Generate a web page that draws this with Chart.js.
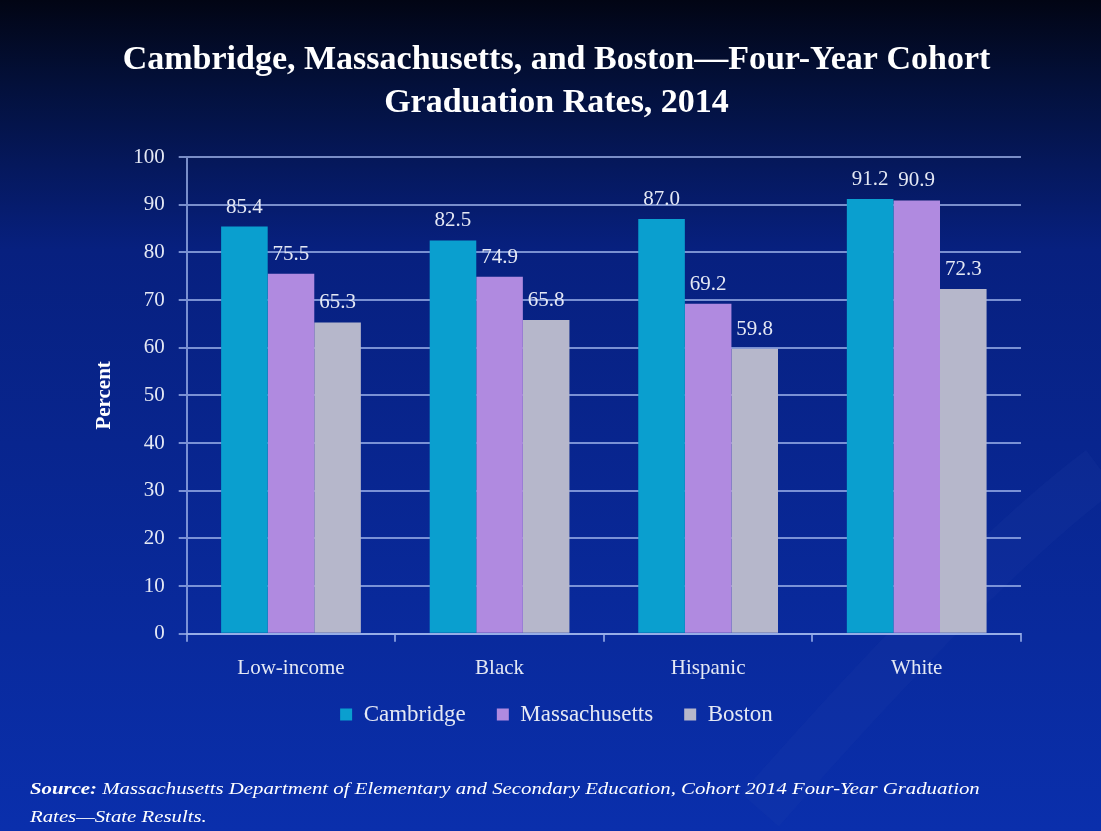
<!DOCTYPE html>
<html>
<head>
<meta charset="utf-8">
<script src="https://cdn.jsdelivr.net/npm/chart.js@4/dist/chart.umd.min.js"></script>
<style>
  html, body { margin: 0; padding: 0; background: #06155a; }
  #wrap { width: 1101px; height: 831px; position: relative; }
</style>
</head>
<body>
<div id="wrap"><canvas id="gradChart" width="1101" height="831"></canvas></div>
<script>
const categories = ["Low-income", "Black", "Hispanic", "White"];
const cambridge = [85.4, 82.5, 87.0, 91.2];
const massachusetts = [75.5, 74.9, 69.2, 90.9];
const boston = [65.3, 65.8, 59.8, 72.3];
const yTicks = [0, 10, 20, 30, 40, 50, 60, 70, 80, 90, 100];

const serif = "'Liberation Serif', 'DejaVu Serif', serif";
const textColor = "#e4e8f4";
const gridColor = "rgba(160,182,236,0.75)";

// background: dark navy at top fading into royal blue
const bgPlugin = {
  id: "bg",
  beforeDraw(chart) {
    const c = chart.ctx;
    const g = c.createLinearGradient(0, 0, 0, chart.height);
    g.addColorStop(0, "#020514");
    g.addColorStop(0.1, "#03103a");
    g.addColorStop(0.3, "#07207f");
    g.addColorStop(1, "#0a2fac");
    c.save();
    c.fillStyle = g;
    c.fillRect(0, 0, chart.width, chart.height);
    // faint swoosh on the right
    c.strokeStyle = "rgba(50,80,180,0.1)";
    c.lineWidth = 50;
    c.beginPath();
    c.moveTo(760, 810);
    c.quadraticCurveTo(980, 560, 1101, 470);
    c.stroke();
    c.restore();
  }
};

// value labels above each bar
const valueLabels = {
  id: "valueLabels",
  afterDatasetsDraw(chart) {
    const c = chart.ctx;
    c.save();
    c.font = "21px " + serif;
    c.fillStyle = textColor;
    c.textAlign = "center";
    c.textBaseline = "bottom";
    chart.data.datasets.forEach((ds, i) => {
      chart.getDatasetMeta(i).data.forEach((bar, j) => {
        c.fillText(ds.data[j].toFixed(1), bar.x, bar.y - 9);
      });
    });
    c.restore();
  }
};

// source note at the bottom (slightly stretched like the original)
const sourceNote = {
  id: "sourceNote",
  afterDraw(chart) {
    const c = chart.ctx;
    const sx = 1.3;
    c.save();
    c.fillStyle = "#ffffff";
    c.textBaseline = "alphabetic";
    c.scale(sx, 1);
    const x0 = 30 / sx;
    c.font = "italic bold 16px " + serif;
    const lead = "Source: ";
    c.fillText(lead, x0, 794);
    const w = c.measureText(lead).width;
    c.font = "italic 16px " + serif;
    c.fillText("Massachusetts Department of Elementary and Secondary Education, Cohort 2014 Four-Year Graduation", x0 + w, 794);
    c.fillText("Rates\u2014State Results.", x0, 822);
    c.restore();
  }
};

new Chart(document.getElementById("gradChart"), {
  type: "bar",
  data: {
    labels: categories,
    datasets: [
      { label: "Cambridge", data: cambridge, backgroundColor: "#0a9fcf" },
      { label: "Massachusetts", data: massachusetts, backgroundColor: "#b08ae0" },
      { label: "Boston", data: boston, backgroundColor: "#b6b7cb" }
    ]
  },
  options: {
    responsive: false,
    animation: false,
    categoryPercentage: 0.67,
    barPercentage: 1.0,
    layout: { padding: { top: 39, right: 80, bottom: 95, left: 92 } },
    plugins: {
      title: {
        display: true,
        text: ["Cambridge, Massachusetts, and Boston\u2014Four-Year Cohort", "Graduation Rates, 2014"],
        color: "#ffffff",
        font: { family: serif, size: 34, weight: "bold", lineHeight: 1.25 },
        padding: { top: 0, bottom: 33 }
      },
      legend: {
        position: "bottom",
        labels: {
          color: textColor,
          font: { family: serif, size: 23 },
          boxWidth: 12,
          boxHeight: 12,
          padding: 8,
          generateLabels(chart) {
            const items = Chart.defaults.plugins.legend.labels.generateLabels(chart);
            items.forEach((it, i) => {
              if (i < items.length - 1) it.text = it.text + "\u2002\u2002";
            });
            return items;
          }
        }
      },
      tooltip: { enabled: false }
    },
    scales: {
      y: {
        min: 0,
        max: 100,
        afterBuildTicks(axis) { axis.ticks = yTicks.map(v => ({ value: v })); },
        grid: { color: gridColor, lineWidth: 2, tickLength: 8 },
        border: { color: gridColor, width: 2 },
        ticks: { color: textColor, font: { family: serif, size: 21 }, padding: 14 },
        title: {
          display: true,
          text: "Percent",
          color: "#ffffff",
          font: { family: serif, size: 21, weight: "bold" },
          padding: { top: 0, bottom: 2 }
        }
      },
      x: {
        grid: { color: gridColor, lineWidth: 2, drawOnChartArea: false, tickLength: 8 },
        border: { color: gridColor, width: 2 },
        ticks: { color: textColor, font: { family: serif, size: 21 }, padding: 14 }
      }
    }
  },
  plugins: [bgPlugin, valueLabels, sourceNote]
});
</script>
</body>
</html>
